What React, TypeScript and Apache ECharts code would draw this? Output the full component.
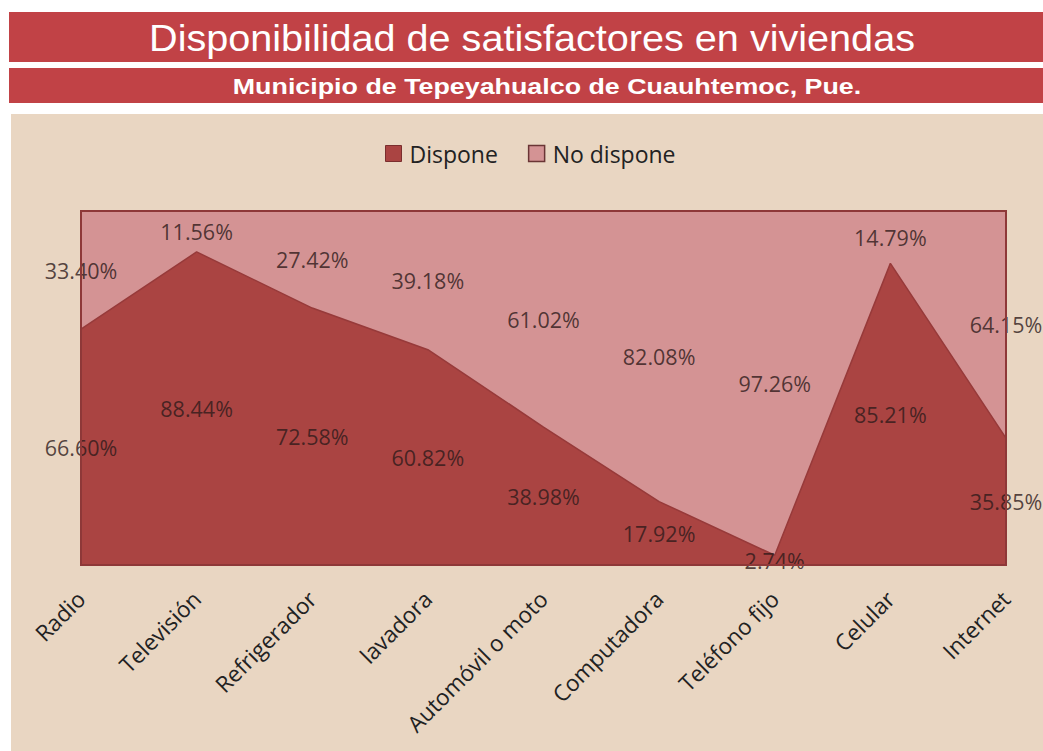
import React, { useEffect, useRef } from "react";
import * as echarts from "echarts";

const categories = [
  "Radio",
  "Televisión",
  "Refrigerador",
  "lavadora",
  "Automóvil o moto",
  "Computadora",
  "Teléfono fijo",
  "Celular",
  "Internet",
];
const dispone = [66.6, 88.44, 72.58, 60.82, 38.98, 17.92, 2.74, 85.21, 35.85];
const noDispone = [33.4, 11.56, 27.42, 39.18, 61.02, 82.08, 97.26, 14.79, 64.15];

const TITLE = "Disponibilidad de satisfactores en viviendas";
const SUBTITLE = "Municipio de Tepeyahualco de Cuauhtemoc, Pue.";

const C_DISPONE = "#aa4442";
const C_NODISPONE = "#d49394";
const C_BANNER = "#c14246";
const C_BEIGE = "#e9d6c2";
const C_BORDER = "#8e3838";
const FONT = '"Open Sans", "Noto Sans", sans-serif';

export default function App() {
  const ref = useRef<HTMLDivElement>(null);

  useEffect(() => {
    if (!ref.current) return;
    const chart = echarts.init(ref.current, null, { renderer: "svg" });

    const gridLeft = 81;
    const gridTop = 211;
    const gridRight = 1043 - 1006;
    const gridBottom = 751 - 565;

    const labelStyle = {
      show: true,
      position: "inside" as const,
      fontFamily: FONT,
      fontSize: 21.5,
      color: "#2e1a1a",
    };

    chart.setOption({
      animation: false,
      backgroundColor: "#ffffff",
      graphic: [
        { type: "rect", shape: { x: 9, y: 12, width: 1034, height: 50 }, style: { fill: C_BANNER }, z: 0 },
        { type: "rect", shape: { x: 9, y: 68, width: 1034, height: 35 }, style: { fill: C_BANNER }, z: 0 },
        { type: "rect", shape: { x: 11, y: 114, width: 1032, height: 637 }, style: { fill: C_BEIGE }, z: -10, silent: true },
        {
          type: "text",
          x: 532,
          y: 38,
          scaleX: 1.1,
          scaleY: 1.05,
          style: {
            text: TITLE,
            fill: "#ffffff",
            font: '36px "Liberation Sans", Arial, sans-serif',
            textAlign: "center",
            textVerticalAlign: "middle",
          },
          z: 5,
        },
        {
          type: "text",
          x: 547,
          y: 86,
          scaleX: 1.22,
          scaleY: 0.98,
          style: {
            text: SUBTITLE,
            fill: "#ffffff",
            font: 'bold 22px "Liberation Sans", Arial, sans-serif',
            textAlign: "center",
            textVerticalAlign: "middle",
          },
          z: 5,
        },
        {
          type: "rect",
          shape: { x: gridLeft, y: gridTop, width: 1006 - gridLeft, height: 565 - gridTop },
          style: { fill: "none", stroke: C_BORDER, lineWidth: 2 },
          z: 100,
          silent: true,
        },
      ],
      legend: {
        data: [
          { name: "Dispone", itemStyle: { color: C_DISPONE, borderColor: "#7a2e2e", borderWidth: 1 } },
          { name: "No dispone", itemStyle: { color: C_NODISPONE, borderColor: "#6a3535", borderWidth: 1.5 } },
        ],
        left: 380,
        top: 137,
        icon: "rect",
        itemWidth: 16,
        itemHeight: 16,
        itemGap: 30,
        textStyle: { fontFamily: FONT, fontSize: 23, color: "#222222", padding: [0, 0, 0, 3] },
      },
      grid: { left: gridLeft, top: gridTop, right: gridRight, bottom: gridBottom },
      xAxis: {
        type: "category",
        data: categories,
        boundaryGap: false,
        axisLine: { show: false },
        axisTick: { show: false },
        axisLabel: {
          rotate: 45,
          margin: 30,
          interval: 0,
          fontFamily: FONT,
          fontSize: 22.5,
          color: "#222222",
        },
      },
      yAxis: {
        type: "value",
        min: 0,
        max: 100,
        show: false,
        splitLine: { show: false },
      },
      series: [
        {
          name: "Dispone",
          type: "line",
          stack: "total",
          data: dispone,
          showSymbol: false,
          lineStyle: { color: "#973a3a", width: 1.5 },
          itemStyle: { color: C_DISPONE },
          areaStyle: { color: C_DISPONE, opacity: 1 },
          z: 2,
        },
        {
          name: "No dispone",
          type: "line",
          stack: "total",
          data: noDispone,
          showSymbol: false,
          lineStyle: { color: C_NODISPONE, width: 0 },
          itemStyle: { color: C_NODISPONE },
          areaStyle: { color: C_NODISPONE, opacity: 1 },
          z: 1,
        },
        {
          name: "lbl-dispone",
          type: "scatter",
          data: dispone.map((v) => v / 2),
          symbolSize: 0,
          silent: true,
          label: {
            ...labelStyle,
            formatter: (p: any) => `${dispone[p.dataIndex].toFixed(2)}%`,
          },
          z: 10,
        },
        {
          name: "lbl-nodispone",
          type: "scatter",
          data: noDispone.map((v, i) => dispone[i] + v / 2),
          symbolSize: 0,
          silent: true,
          label: {
            ...labelStyle,
            formatter: (p: any) => `${noDispone[p.dataIndex].toFixed(2)}%`,
          },
          z: 10,
        },
      ],
    });

    return () => chart.dispose();
  }, []);

  return (
    <div
      ref={ref}
      style={{ position: "absolute", left: 0, top: 0, width: 1043, height: 751 }}
    />
  );
}
